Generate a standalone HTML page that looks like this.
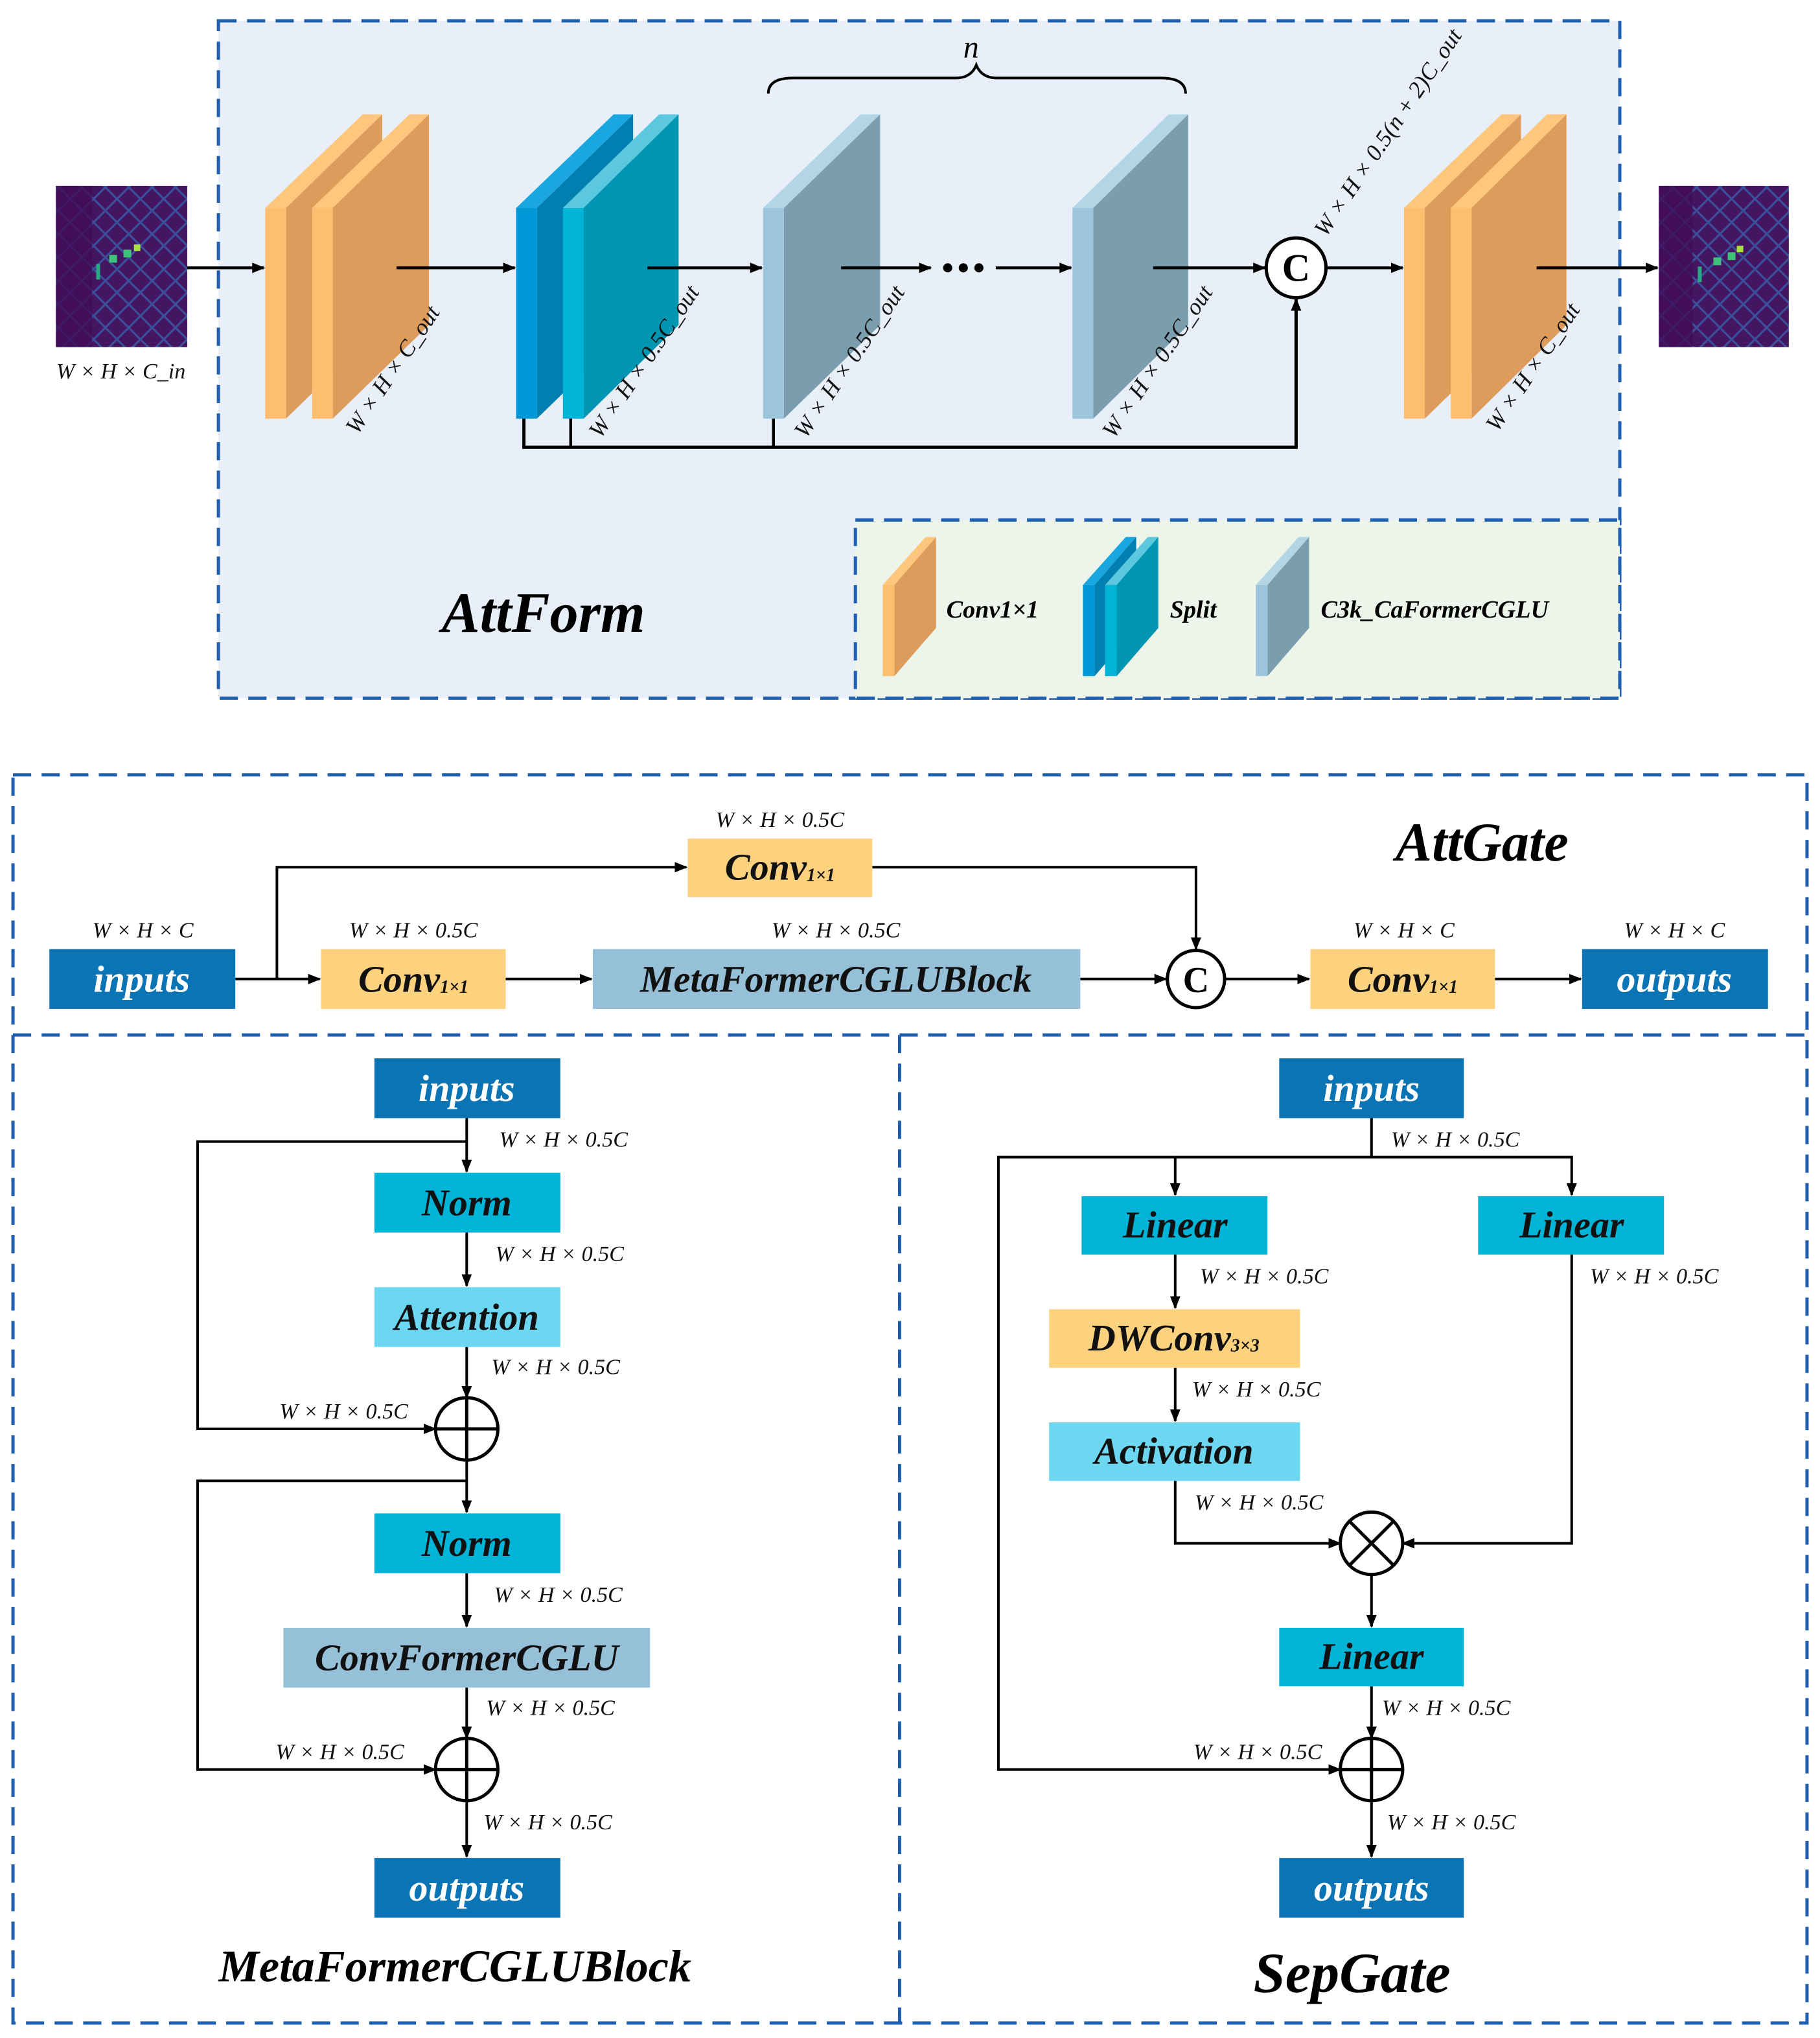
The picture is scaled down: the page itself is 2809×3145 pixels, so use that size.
<!DOCTYPE html>
<html><head><meta charset="utf-8"><style>
html,body{margin:0;padding:0;background:#fff;}
svg{display:block;}
text{font-family:"Liberation Serif",serif;}
.lb{font-style:italic;font-size:17px;fill:#111;}
.bx{font-style:italic;font-weight:bold;font-size:29px;text-anchor:middle;dominant-baseline:central;}
.w{fill:#fff;}
.k{fill:#111;}
</style></head><body>
<svg width="2809" height="3145" viewBox="0 0 1400 1567.5" preserveAspectRatio="none" xmlns="http://www.w3.org/2000/svg">
<defs>
<marker id="a" markerWidth="10" markerHeight="8" refX="9" refY="4" orient="auto" markerUnits="userSpaceOnUse"><path d="M0,0 L10,4 L0,8 Z" fill="#000"/></marker>
<pattern id="pp" width="18" height="18" patternUnits="userSpaceOnUse"><rect width="18" height="18" fill="#441560"/><path d="M0,9 L9,0 L18,9 L9,18 Z" fill="none" stroke="#3b4f9a" stroke-width="1.6"/></pattern>
</defs>
<rect x="168" y="16" width="1078" height="521" fill="#e9eff9" stroke="#1f5fb0" stroke-width="2.5" stroke-dasharray="14,8"/>
<rect x="658" y="400" width="588" height="137" fill="#edf4ea" stroke="#1f5fb0" stroke-width="2.5" stroke-dasharray="14,8"/>
<rect x="43" y="143" width="101" height="124" fill="url(#pp)"/>
<rect x="43" y="143" width="28" height="124" fill="#420c58" opacity="0.8"/>
<rect x="84" y="196" width="6" height="6" fill="#3ec27a"/><rect x="95" y="192" width="6" height="6" fill="#3ec27a"/><rect x="103" y="188" width="5" height="5" fill="#a8e040"/><rect x="74" y="203" width="3" height="12" fill="#2aa886"/>
<rect x="1276" y="143" width="100" height="124" fill="url(#pp)"/>
<rect x="1276" y="143" width="26" height="124" fill="#420c58" opacity="0.8"/>
<rect x="1318" y="198" width="6" height="6" fill="#3ec27a"/><rect x="1329" y="194" width="6" height="6" fill="#3ec27a"/><rect x="1336" y="189" width="5" height="5" fill="#a8e040"/><rect x="1306" y="205" width="3" height="12" fill="#2aa886"/>
<text class="lb" x="93" y="291" text-anchor="middle">W × H × C_in</text>
<g>
<polygon points="204,160 220,160 294,88 279,88" fill="#fdc77d"/><polygon points="220,160 294,88 294,250 220,322" fill="#dd9c5c"/><rect x="204" y="160" width="16" height="162" fill="#fdbf6f"/>
<polygon points="240,160 256,160 330,88 315,88" fill="#fdc77d"/><polygon points="256,160 330,88 330,250 256,322" fill="#dd9c5c"/><rect x="240" y="160" width="16" height="162" fill="#fdbf6f"/>
<polygon points="397,160 413,160 487,88 472,88" fill="#1aa6de"/><polygon points="413,160 487,88 487,250 413,322" fill="#007fb0"/><rect x="397" y="160" width="16" height="162" fill="#0099d8"/>
<polygon points="433,160 449,160 522,88 507,88" fill="#5bc8e0"/><polygon points="449,160 522,88 522,250 449,322" fill="#0095b0"/><rect x="433" y="160" width="16" height="162" fill="#00b4d8"/>
<polygon points="587,160 603,160 677,88 662,88" fill="#b2d6e6"/><polygon points="603,160 677,88 677,250 603,322" fill="#7a9eae"/><rect x="587" y="160" width="16" height="162" fill="#9cc4da"/>
<polygon points="825,160 841,160 914,88 899,88" fill="#b2d6e6"/><polygon points="841,160 914,88 914,250 841,322" fill="#7a9eae"/><rect x="825" y="160" width="16" height="162" fill="#9cc4da"/>
<polygon points="1080,160 1096,160 1170,88 1155,88" fill="#fdc77d"/><polygon points="1096,160 1170,88 1170,250 1096,322" fill="#dd9c5c"/><rect x="1080" y="160" width="16" height="162" fill="#fdbf6f"/>
<polygon points="1116,160 1132,160 1205,88 1190,88" fill="#fdc77d"/><polygon points="1132,160 1205,88 1205,250 1132,322" fill="#dd9c5c"/><rect x="1116" y="160" width="16" height="162" fill="#fdbf6f"/>
</g>
<g stroke="#000" stroke-width="2.2" fill="none">
<line x1="144" y1="206" x2="203" y2="206" marker-end="url(#a)"/>
<line x1="305" y1="206" x2="396" y2="206" marker-end="url(#a)"/>
<line x1="498" y1="206" x2="586" y2="206" marker-end="url(#a)"/>
<line x1="647" y1="206" x2="716" y2="206" marker-end="url(#a)"/>
<line x1="766" y1="206" x2="824" y2="206" marker-end="url(#a)"/>
<line x1="887" y1="206" x2="973" y2="206" marker-end="url(#a)"/>
<line x1="1021" y1="206" x2="1079" y2="206" marker-end="url(#a)"/>
<line x1="1182" y1="206" x2="1275" y2="206" marker-end="url(#a)"/>
<polyline points="403,322 403,344 997,344 997,230" marker-end="url(#a)" stroke-width="2.5"/>
<line x1="439" y1="322" x2="439" y2="344"/><line x1="595" y1="322" x2="595" y2="344"/>
<circle cx="997" cy="206" r="23" fill="#fff" stroke-width="2.5"/>
<path d="M591,72 Q591,60 610,60 L735,60 Q747,60 751,50 Q755,60 767,60 L893,60 Q912,60 912,72" stroke-width="2"/>
</g>
<circle cx="729" cy="206" r="3.5"/><circle cx="741" cy="206" r="3.5"/><circle cx="753" cy="206" r="3.5"/>
<text x="997" y="216" text-anchor="middle" font-size="30" font-weight="bold">C</text>
<text x="747" y="44" text-anchor="middle" font-size="24" font-style="italic">n</text>
<g class="lb" font-size="18">
<text transform="translate(275,335) rotate(-56)" font-size="18">W × H × C_out</text>
<text transform="translate(462,338) rotate(-56)" font-size="18">W × H × 0.5C_out</text>
<text transform="translate(620,338) rotate(-56)" font-size="18">W × H × 0.5C_out</text>
<text transform="translate(857,338) rotate(-56)" font-size="18">W × H × 0.5C_out</text>
<text transform="translate(1152,333) rotate(-56)" font-size="18">W × H × C_out</text>
<text transform="translate(1020,183) rotate(-56)" font-size="18">W × H × 0.5(n + 2)C_out</text>
</g>
<text x="418" y="486" text-anchor="middle" font-size="44" font-weight="bold" font-style="italic">AttForm</text>
<polygon points="679,450 688,450 720,413 712,413" fill="#fdc77d"/><polygon points="688,450 720,413 720,483 688,520" fill="#dd9c5c"/><rect x="679" y="450" width="9" height="70" fill="#fdbf6f"/>
<text x="728" y="475" font-size="19" font-weight="bold" font-style="italic">Conv1×1</text>
<polygon points="833,450 842,450 874,413 866,413" fill="#1aa6de"/><polygon points="842,450 874,413 874,483 842,520" fill="#007fb0"/><rect x="833" y="450" width="9" height="70" fill="#0099d8"/>
<polygon points="850,450 859,450 891,413 883,413" fill="#5bc8e0"/><polygon points="859,450 891,413 891,483 859,520" fill="#0095b0"/><rect x="850" y="450" width="9" height="70" fill="#00b4d8"/>
<text x="900" y="475" font-size="19" font-weight="bold" font-style="italic">Split</text>
<polygon points="966,450 975,450 1007,413 999,413" fill="#b2d6e6"/><polygon points="975,450 1007,413 1007,483 975,520" fill="#7a9eae"/><rect x="966" y="450" width="9" height="70" fill="#9cc4da"/>
<text x="1016" y="475" font-size="19" font-weight="bold" font-style="italic">C3k_CaFormerCGLU</text>

<g fill="none" stroke="#1f5fb0" stroke-width="2.5" stroke-dasharray="14,8">
<rect x="10" y="596" width="1380" height="960"/>
<line x1="10" y1="796" x2="1390" y2="796"/>
<line x1="692" y1="796" x2="692" y2="1556"/>
</g>
<text x="1140" y="662" text-anchor="middle" font-size="42" font-weight="bold" font-style="italic">AttGate</text>
<g stroke="#000" stroke-width="2" fill="none">
<line x1="181" y1="753" x2="246" y2="753" marker-end="url(#a)"/>
<polyline points="213,753 213,667 528,667" marker-end="url(#a)"/>
<polyline points="671,667 920,667 920,730" marker-end="url(#a)"/>
<line x1="389" y1="753" x2="455" y2="753" marker-end="url(#a)"/>
<line x1="831" y1="753" x2="897" y2="753" marker-end="url(#a)"/>
<line x1="943" y1="753" x2="1007" y2="753" marker-end="url(#a)"/>
<line x1="1150" y1="753" x2="1216" y2="753" marker-end="url(#a)"/>
<circle cx="920" cy="753" r="22" fill="#fff" stroke-width="2.5"/>
</g>
<text x="920" y="763" text-anchor="middle" font-size="28" font-weight="bold">C</text>
<rect x="38" y="730" width="143" height="46" fill="#0b74b4"/><text class="bx w" x="109" y="753">inputs</text>
<rect x="247" y="730" width="142" height="46" fill="#fdd27f"/><text class="bx k" x="318" y="753">Conv<tspan font-size="14" dy="6">1×1</tspan></text>
<rect x="529" y="645" width="142" height="45" fill="#fdd27f"/><text class="bx k" x="600" y="667">Conv<tspan font-size="14" dy="6">1×1</tspan></text>
<rect x="456" y="730" width="375" height="46" fill="#96c0d8"/><text class="bx k" x="643" y="753">MetaFormerCGLUBlock</text>
<rect x="1008" y="730" width="142" height="46" fill="#fdd27f"/><text class="bx k" x="1079" y="753">Conv<tspan font-size="14" dy="6">1×1</tspan></text>
<rect x="1217" y="730" width="143" height="46" fill="#0b74b4"/><text class="bx w" x="1288" y="753">outputs</text>
<g class="lb" text-anchor="middle">
<text x="110" y="721">W × H × C</text><text x="318" y="721">W × H × 0.5C</text><text x="600" y="636">W × H × 0.5C</text>
<text x="643" y="721">W × H × 0.5C</text><text x="1080" y="721">W × H × C</text><text x="1288" y="721">W × H × C</text>
</g>
<g stroke="#000" stroke-width="2" fill="none">
<line x1="359" y1="860" x2="359" y2="901" marker-end="url(#a)"/>
<line x1="359" y1="948" x2="359" y2="989" marker-end="url(#a)"/>
<line x1="359" y1="1036" x2="359" y2="1075" marker-end="url(#a)"/>
<polyline points="359,878 152,878 152,1099 335,1099" marker-end="url(#a)"/>
<line x1="359" y1="1123" x2="359" y2="1163" marker-end="url(#a)"/>
<polyline points="359,1139 152,1139 152,1361 335,1361" marker-end="url(#a)"/>
<line x1="359" y1="1210" x2="359" y2="1251" marker-end="url(#a)"/>
<line x1="359" y1="1298" x2="359" y2="1337" marker-end="url(#a)"/>
<line x1="359" y1="1385" x2="359" y2="1428" marker-end="url(#a)"/>
<circle cx="359" cy="1099" r="24" fill="#fff" stroke-width="2.5"/>
<path d="M335,1099 H383 M359,1075 V1123" stroke-width="2.5"/>
<circle cx="359" cy="1361" r="24" fill="#fff" stroke-width="2.5"/>
<path d="M335,1361 H383 M359,1337 V1385" stroke-width="2.5"/>
</g>
<rect x="288" y="814" width="143" height="46" fill="#0b74b4"/><text class="bx w" x="359" y="837">inputs</text>
<rect x="288" y="902" width="143" height="46" fill="#00b4d8"/><text class="bx k" x="359" y="925">Norm</text>
<rect x="288" y="990" width="143" height="46" fill="#6dd6f0"/><text class="bx k" x="359" y="1013">Attention</text>
<rect x="288" y="1164" width="143" height="46" fill="#00b4d8"/><text class="bx k" x="359" y="1187">Norm</text>
<rect x="218" y="1252" width="282" height="46" fill="#96c0d8"/><text class="bx k" x="359" y="1275">ConvFormerCGLU</text>
<rect x="288" y="1429" width="143" height="46" fill="#0b74b4"/><text class="bx w" x="359" y="1452">outputs</text>
<g class="lb">
<text x="384" y="882">W × H × 0.5C</text><text x="381" y="970">W × H × 0.5C</text><text x="378" y="1057">W × H × 0.5C</text>
<text x="215" y="1091">W × H × 0.5C</text><text x="380" y="1232">W × H × 0.5C</text><text x="374" y="1319">W × H × 0.5C</text>
<text x="212" y="1353">W × H × 0.5C</text><text x="372" y="1407">W × H × 0.5C</text>
</g>
<text x="350" y="1524" text-anchor="middle" font-size="35" font-weight="bold" font-style="italic">MetaFormerCGLUBlock</text>
<g stroke="#000" stroke-width="2" fill="none">
<polyline points="1055,860 1055,890"/>
<polyline points="904,890 904,919" marker-end="url(#a)"/>
<polyline points="904,890 1209,890 1209,919" marker-end="url(#a)"/>
<polyline points="904,890 768,890 768,1361 1031,1361" marker-end="url(#a)"/>
<line x1="904" y1="965" x2="904" y2="1006" marker-end="url(#a)"/>
<line x1="904" y1="1052" x2="904" y2="1093" marker-end="url(#a)"/>
<polyline points="904,1139 904,1187 1031,1187" marker-end="url(#a)"/>
<polyline points="1209,965 1209,1187 1079,1187" marker-end="url(#a)"/>
<line x1="1055" y1="1211" x2="1055" y2="1251" marker-end="url(#a)"/>
<line x1="1055" y1="1297" x2="1055" y2="1337" marker-end="url(#a)"/>
<line x1="1055" y1="1385" x2="1055" y2="1428" marker-end="url(#a)"/>
<circle cx="1055" cy="1187" r="24" fill="#fff" stroke-width="2.5"/>
<path d="M1038,1170 L1072,1204 M1072,1170 L1038,1204" stroke-width="2.5"/>
<circle cx="1055" cy="1361" r="24" fill="#fff" stroke-width="2.5"/>
<path d="M1031,1361 H1079 M1055,1337 V1385" stroke-width="2.5"/>
</g>
<rect x="984" y="814" width="142" height="46" fill="#0b74b4"/><text class="bx w" x="1055" y="837">inputs</text>
<rect x="832" y="920" width="143" height="45" fill="#00b4d8"/><text class="bx k" x="904" y="942">Linear</text>
<rect x="1137" y="920" width="143" height="45" fill="#00b4d8"/><text class="bx k" x="1209" y="942">Linear</text>
<rect x="807" y="1007" width="193" height="45" fill="#fdd27f"/><text class="bx k" x="903" y="1029">DWConv<tspan font-size="14" dy="6">3×3</tspan></text>
<rect x="807" y="1094" width="193" height="45" fill="#6dd6f0"/><text class="bx k" x="903" y="1116">Activation</text>
<rect x="984" y="1252" width="142" height="45" fill="#00b4d8"/><text class="bx k" x="1055" y="1274">Linear</text>
<rect x="984" y="1429" width="142" height="46" fill="#0b74b4"/><text class="bx w" x="1055" y="1452">outputs</text>
<g class="lb">
<text x="1070" y="882">W × H × 0.5C</text><text x="923" y="987">W × H × 0.5C</text><text x="1223" y="987">W × H × 0.5C</text>
<text x="917" y="1074">W × H × 0.5C</text><text x="919" y="1161">W × H × 0.5C</text><text x="1063" y="1319">W × H × 0.5C</text>
<text x="918" y="1353">W × H × 0.5C</text><text x="1067" y="1407">W × H × 0.5C</text>
</g>
<text x="1040" y="1532" text-anchor="middle" font-size="44" font-weight="bold" font-style="italic">SepGate</text>
</svg>
</body></html>
